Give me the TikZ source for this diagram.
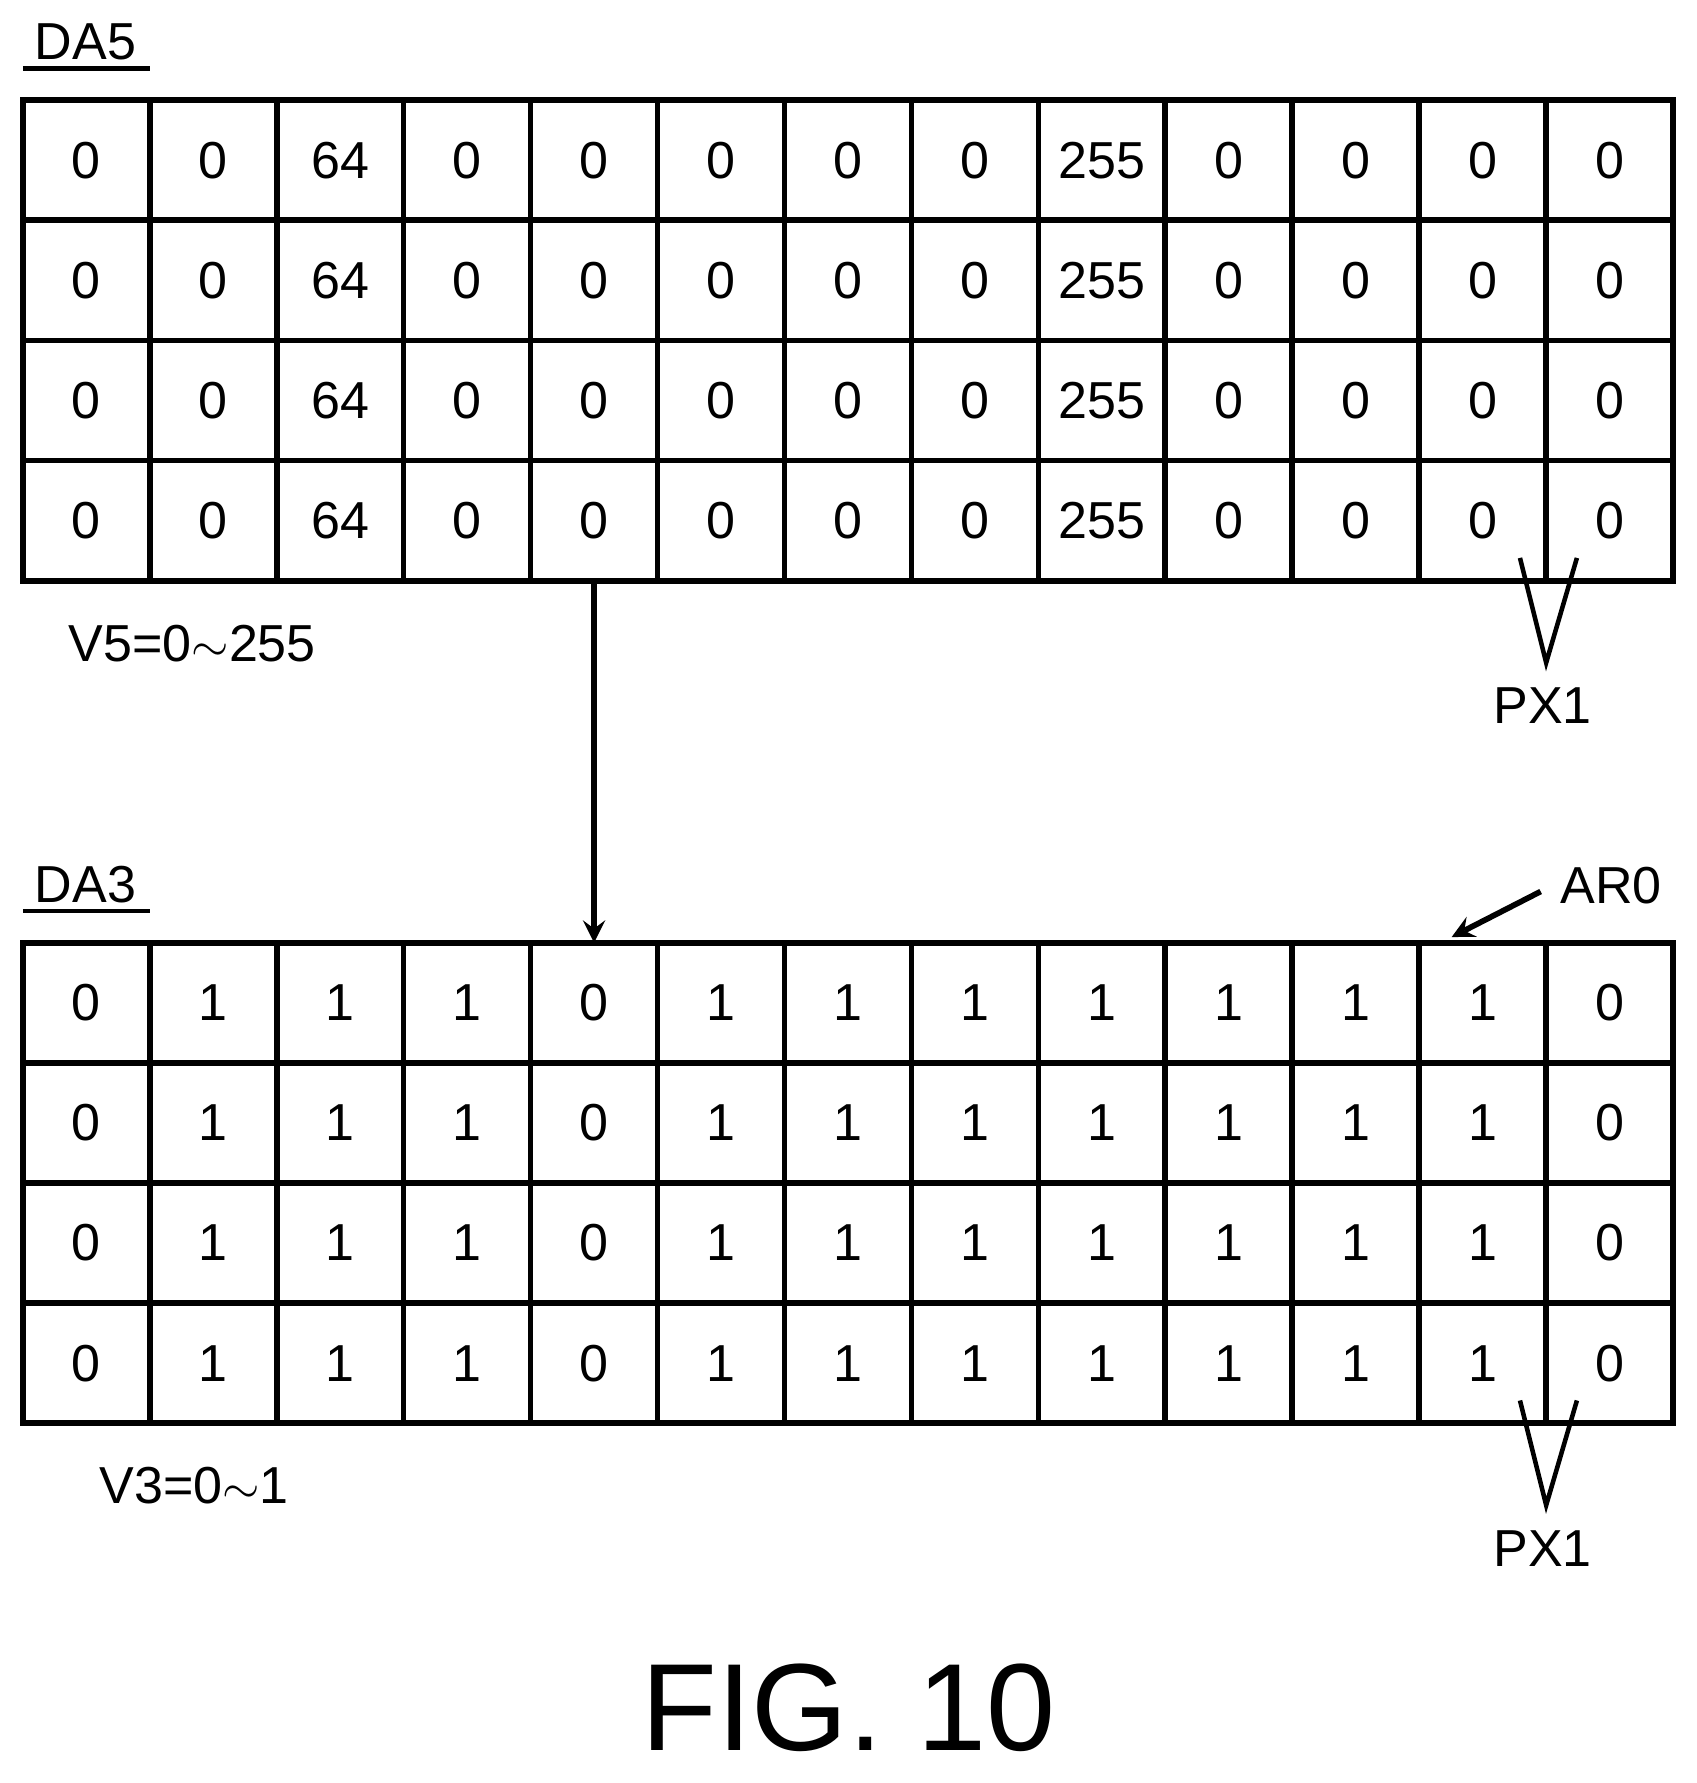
\documentclass[tikz,border=0pt]{standalone}
\usepackage{fontspec}
\setmainfont{Liberation Sans}
\usetikzlibrary{arrows}
\usetikzlibrary{positioning}
\usetikzlibrary{calc}

\begin{document}
\begin{tikzpicture}[
  cell/.style={
    draw, line width=0.5mm, minimum width=1.115cm, minimum height=1.055cm,
    inner sep=0pt, outer sep=0pt, font=\fontsize{13}{13}\selectfont},
  lbl/.style={font=\fontsize{13}{13}\selectfont},
  dep/.style={->, >=stealth, line width=0.5mm},
]
  \useasboundingbox (0,0) rectangle (14.9,-15.66);

  \def\cw{1.115}%
  \def\rh{1.055}%
  \def\topA{-0.88}%
  \def\topB{-8.28}%

  % DA5 grid
  \foreach \r in {1,...,4} {
    \foreach \v [count=\i from 1] in {0,0,64,0,0,0,0,0,255,0,0,0,0} {
      \node[cell] (a\r_\i) at (0.2+\cw*\i-\cw/2, \topA-\rh*\r+\rh/2) {\v};
    }
  }
  % DA3 grid
  \foreach \r in {1,...,4} {
    \foreach \v [count=\i from 1] in {0,1,1,1,0,1,1,1,1,1,1,1,0} {
      \node[cell] (b\r_\i) at (0.2+\cw*\i-\cw/2, \topB-\rh*\r+\rh/2) {\v};
    }
  }

  \node[lbl] (da5) at (0.75,-0.37) {DA5};
  \draw[line width=0.4mm] (0.2,-0.6) -- (1.32,-0.6);
  \node[lbl] (da3) at (0.75,-7.77) {DA3};
  \draw[line width=0.4mm] (0.2,-8.0) -- (1.32,-8.0);

  \node[lbl, anchor=west] (v5) at (0.48,-5.65) {V5=0$\sim$255};
  \node[lbl, anchor=west] (v3) at (0.75,-13.05) {V3=0$\sim$1};

  \draw[dep] (a4_5.south) -- (b1_5.north);

  % PX1 markers
  \node[lbl] (px1a) at (13.55,-6.2) {PX1};
  \coordinate (ta) at (13.58,-5.82);
  \draw[line width=0.4mm] (13.35,-4.9) -- (ta) -- (13.85,-4.9);
  \node[lbl] (px1b) at (13.55,-13.6) {PX1};
  \coordinate (tb) at (13.58,-13.22);
  \draw[line width=0.4mm] (13.35,-12.3) -- (tb) -- (13.85,-12.3);

  \node[lbl] (ar0) at (14.15,-7.78) {AR0};
  \coordinate (ar0t) at (12.75,-8.23);
  \draw[dep] (ar0.west) ++(-0.05,-0.05) -- (ar0t);

  \node[font=\fontsize{31}{31}\selectfont] (fig) at (7.45,-15.0) {FIG. 10};
\end{tikzpicture}
\end{document}
